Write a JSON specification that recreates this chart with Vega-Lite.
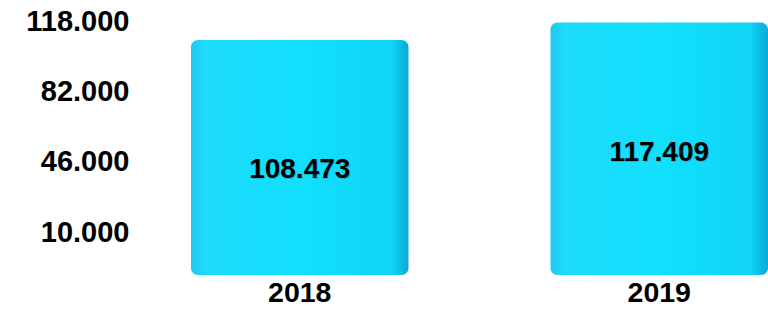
{
  "$schema": "https://vega.github.io/schema/vega-lite/v6.json",
  "autosize": {"type": "none"},
  "padding": {"left": 191, "top": 0, "right": 0, "bottom": 34},
  "width": 577,
  "height": 275,
  "background": "white",
  "config": {
    "view": {"stroke": null},
    "locale": {"number": {"decimal": ",", "thousands": ".", "grouping": [3], "currency": ["", " €"]}},
    "font": "Liberation Sans"
  },
  "data": {"values": [
    {"year": "2018", "value": 108473},
    {"year": "2019", "value": 117409}
  ]},
  "encoding": {
    "x": {
      "field": "year", "type": "nominal",
      "scale": {"paddingInner": 0.395, "paddingOuter": 0},
      "axis": {"title": null, "domain": false, "ticks": false, "labelAngle": 0,
               "labelFont": "Liberation Sans", "labelFontWeight": "bold", "labelFontSize": 28.5,
               "labelColor": "#000", "labelPadding": 3, "labelBaseline": "top"}
    },
    "y": {
      "field": "value", "type": "quantitative",
      "scale": {"domain": [-12000, 129000], "nice": false, "zero": false},
      "axis": {"title": null, "domain": false, "ticks": false, "grid": false,
               "values": [10000, 46000, 82000, 118000], "format": ",d",
               "labelFont": "Liberation Sans", "labelFontWeight": "bold", "labelFontSize": 29,
               "labelColor": "#000", "labelPadding": 62, "labelBaseline": "middle"}
    }
  },
  "layer": [
    {
      "mark": {
        "type": "bar", "cornerRadius": 7,
        "color": {"gradient": "linear", "x1": 0, "x2": 1, "y1": 0, "y2": 0,
          "stops": [
            {"offset": 0, "color": "#20C8EE"},
            {"offset": 0.06, "color": "#1EDAFB"},
            {"offset": 0.5, "color": "#12E0FD"},
            {"offset": 0.92, "color": "#10D4F8"},
            {"offset": 1, "color": "#0AA9D6"}
          ]}
      },
      "encoding": {"y2": {"datum": -12000}}
    },
    {
      "mark": {"type": "text", "dy": 131, "font": "Liberation Sans", "fontWeight": "bold",
               "fontSize": 28, "color": "#0B7A93", "opacity": 0.35, "dx": 1},
      "encoding": {"text": {"field": "value", "type": "quantitative", "format": ",d"}}
    },
    {
      "mark": {"type": "text", "dy": 130, "font": "Liberation Sans", "fontWeight": "bold",
               "fontSize": 28, "color": "#000"},
      "encoding": {"text": {"field": "value", "type": "quantitative", "format": ",d"}}
    }
  ]
}
